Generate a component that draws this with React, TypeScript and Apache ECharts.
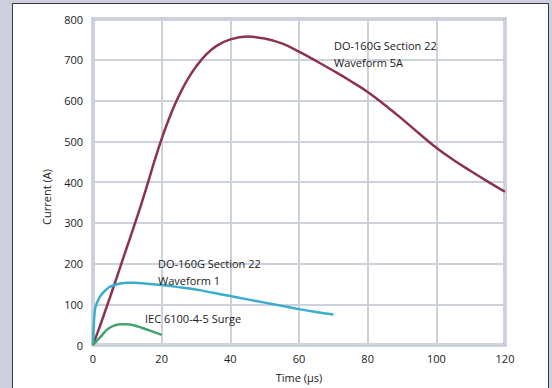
import React, { useEffect, useRef } from "react";
import * as echarts from "echarts";

const xTicks = [0, 20, 40, 60, 80, 100, 120];
const yTicks = [0, 100, 200, 300, 400, 500, 600, 700, 800];

const wave5A: [number, number][] = [
  [0, 0], [2, 46], [4, 94], [6, 143], [8, 193], [10, 243], [12, 293], [14, 344],
  [16, 398], [18, 454], [20, 506], [22, 552], [24, 593], [26, 628], [28, 658],
  [30, 683], [33, 713], [36, 734], [40, 750], [45, 757], [50, 752], [55, 740],
  [60, 720], [65, 697], [70, 673], [75, 648], [80, 621], [85, 589], [90, 555],
  [95, 519], [100, 484], [105, 454], [110, 427], [115, 401], [120, 376],
];

const wave1: [number, number][] = [
  [0, 0], [0.3, 60], [0.6, 88], [1, 100], [1.5, 110], [2, 118], [3, 129], [4, 137],
  [5, 143], [6.5, 148], [8, 151], [10, 152.5], [12, 152.5], [15, 151], [20, 147],
  [25, 142], [30, 136], [35, 128], [40, 120], [45, 112], [50, 104], [55, 96],
  [60, 88], [65, 81], [70, 75],
];

const iecSurge: [number, number][] = [
  [0, 0], [1, 9], [2, 18], [3, 28], [4, 37], [5, 43], [6, 47], [8, 51], [10, 51],
  [12, 48], [14, 43], [16, 37], [18, 31], [20, 25],
];

const labels = [
  { lines: ["DO-160G Section 22", "Waveform 5A"], x: 334, y: 37 },
  { lines: ["DO-160G Section 22", "Waveform 1"], x: 158, y: 255 },
  { lines: ["IEC 6100-4-5 Surge"], x: 145, y: 310 },
];

const FONT = "Open Sans";
const TEXT = "#1a1a1a";

export default function App() {
  const ref = useRef<HTMLDivElement>(null);
  useEffect(() => {
    if (!ref.current) return;
    const chart = echarts.init(ref.current, undefined, { renderer: "svg" });
    chart.setOption({
      animation: false,
      graphic: [
        ...labels.map((l) => ({
          type: "text",
          x: l.x,
          y: l.y,
          z: 100,
          style: {
            text: l.lines.join("\n"),
            fontFamily: FONT,
            fontSize: 11,
            fill: TEXT,
            lineHeight: 17,
          },
        })),
        {
          type: "text",
          x: 46,
          y: 197,
          z: 100,
          rotation: Math.PI / 2,
          style: {
            text: "Current (A)",
            fontFamily: FONT,
            fontSize: 11,
            fill: TEXT,
            align: "center",
            verticalAlign: "middle",
          },
        },
      ],
      grid: {
        left: 93,
        right: 47,
        top: 19,
        bottom: 40,
        show: true,
        borderColor: "#9ea7ba",
        borderWidth: 3,
      },
      xAxis: {
        type: "value",
        min: xTicks[0],
        max: xTicks[xTicks.length - 1],
        interval: 20,
        name: "Time (µs)",
        nameLocation: "middle",
        nameGap: 27,
        nameTextStyle: { fontSize: 11, color: TEXT, fontFamily: FONT },
        axisLine: { show: false },
        axisTick: { show: false },
        axisLabel: { fontSize: 11, color: TEXT, margin: 8, fontFamily: FONT },
        splitLine: { show: true, lineStyle: { color: "#ccd1dc", width: 2 } },
      },
      yAxis: {
        type: "value",
        min: yTicks[0],
        max: yTicks[yTicks.length - 1],
        interval: 100,
        axisLine: { show: false },
        axisTick: { show: false },
        axisLabel: { fontSize: 11, color: TEXT, margin: 10, fontFamily: FONT },
        splitLine: { show: true, lineStyle: { color: "#ccd1dc", width: 2 } },
      },
      series: [
        {
          name: "DO-160G Section 22 Waveform 5A",
          type: "line",
          data: wave5A,
          smooth: 0.4,
          symbol: "none",
          lineStyle: { color: "#8c3352", width: 2.5 },
          z: 3,
        },
        {
          name: "DO-160G Section 22 Waveform 1",
          type: "line",
          data: wave1,
          smooth: 0.4,
          symbol: "none",
          lineStyle: { color: "#3aadcc", width: 2.5 },
        },
        {
          name: "IEC 6100-4-5 Surge",
          type: "line",
          data: iecSurge,
          smooth: 0.4,
          symbol: "none",
          lineStyle: { color: "#45a46c", width: 2.5 },
        },
      ],
    });
    return () => chart.dispose();
  }, []);
  return (
    <div
      style={{
        position: "fixed",
        left: 0,
        top: 0,
        width: 552,
        height: 388,
        background: "#cdcfdf",
        overflow: "hidden",
      }}
    >
      <div
        style={{
          position: "absolute",
          left: 12,
          top: 3,
          width: 535,
          height: 400,
          background: "#ffffff",
          border: "1.5px solid #3a3a3a",
        }}
      />
      <div
        ref={ref}
        style={{ position: "absolute", left: 0, top: 0, width: 552, height: 388 }}
      />
    </div>
  );
}
